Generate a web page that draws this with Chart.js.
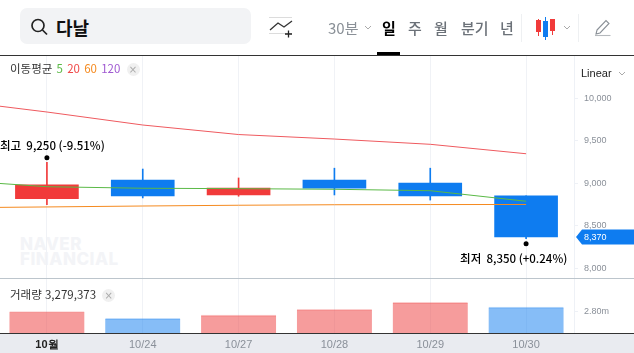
<!DOCTYPE html>
<html lang="ko">
<head>
<meta charset="utf-8">
<title>다날</title>
<script src="https://cdn.jsdelivr.net/npm/chart.js@4"></script>
<style>
  html, body { margin: 0; padding: 0; background: #fff; overflow: hidden; }
  body { width: 634px; height: 353px; position: relative; font-family: "Noto Sans CJK KR", sans-serif; }
  .abs { position: absolute; white-space: nowrap; }
  #search { left: 20px; top: 8px; width: 231px; height: 36px; background: #f2f3f5; border-radius: 7px; }
  #name { left: 56px; top: 14px; font-size: 18px; line-height: 26px; font-weight: 700; color: #111; }
  .period { top: 17px; font-size: 15px; line-height: 22px; color: #6b7178; font-weight: 500; }
  #topline { left: 0; top: 55px; width: 634px; height: 1px; background: #333; }
  #active { left: 377px; top: 52px; width: 23px; height: 3px; background: #000; }
  #vsep1, #vsep2 { top: 14px; width: 1px; height: 28px; background: #eef0f2; }
  #band { left: 0; top: 333px; width: 634px; height: 20px; background: #e9ebf0; }
  #baseline { left: 0; top: 333px; width: 634px; height: 1px; background: #333; }
  #paneline { left: 0; top: 278px; width: 634px; height: 1px; background: #bcc5cc; }
  #linear { left: 581px; top: 66px; font: 11px/14px "Liberation Sans", sans-serif; color: #222; }
  #watermark { left: 20px; top: 237px; font: 800 17px/15px "Inter", sans-serif; letter-spacing: 0.5px; color: #f3f4f7; }
  #legend { left: 10px; top: 61px; font-size: 11.500px; line-height: 14px; color: #333; }
  #legend b { font-weight: 400; margin-left: 1px; }
  #vollabel { left: 10px; top: 287px; font-size: 11.500px; line-height: 15px; color: #333; }
  .closer { display: inline-block; width: 13px; height: 13px; border-radius: 50%; background: #f0f0f0; color: #aaa;
            font: 10px/13px "DejaVu Sans", sans-serif; text-align: center; margin-left: 3px; }
</style>
</head>
<body>
<div class="abs" id="band"></div>
<div class="abs" id="watermark">NAVER<br>FINANCIAL</div>
<div style="position:absolute;left:-1px;top:0;width:636px;height:353px"><canvas id="stockChart"></canvas></div>
<div class="abs" id="baseline"></div>
<div class="abs" id="paneline"></div>

<div class="abs" id="search"></div>
<svg class="abs" style="left:30px;top:18px" width="20" height="20" fill="none" stroke="#222" stroke-width="1.7">
  <circle cx="8" cy="7.500" r="6"/><path d="M12.500 12l4.500 4.500"/>
</svg>
<div class="abs" id="name">다날</div>
<svg class="abs" style="left:268px;top:16px" width="26" height="24" fill="none">
  <path d="M1 1.500h23M1 17.500h23" stroke="#dcdcdc"/>
  <path d="M2 14l8-7 6 4 8-6" stroke="#333" stroke-width="1.3"/>
  <path d="M20.500 14.500v7M17 18h7" stroke="#222" stroke-width="1.300"/>
</svg>
<div class="abs period" style="left:328px;color:#8a9097;font-weight:400">30분</div>
<svg class="abs" style="left:364px;top:25px" width="8" height="6" fill="none" stroke="#aaa"><path d="M1 1l3 3 3-3"/></svg>
<div class="abs period" style="left:382px;color:#000;font-weight:700">일</div>
<div class="abs period" style="left:408px">주</div>
<div class="abs period" style="left:434px">월</div>
<div class="abs period" style="left:461px">분기</div>
<div class="abs period" style="left:500px">년</div>
<div class="abs" id="vsep1" style="left:521px"></div>
<svg class="abs" style="left:535px;top:16px" width="22" height="24">
  <path d="M3.500 3v17M17.500 3v16" stroke="#f13a3a"/><path d="M10.500 1v23" stroke="#0e7cf0"/>
  <rect x="1" y="4" width="5" height="12" fill="#f13a3a"/><rect x="15" y="3" width="5" height="12" fill="#f13a3a"/>
  <rect x="8" y="5" width="5" height="16" fill="#0e7cf0"/>
</svg>
<svg class="abs" style="left:563px;top:25px" width="8" height="6" fill="none" stroke="#aaa"><path d="M1 1l3 3 3-3"/></svg>
<div class="abs" id="vsep2" style="left:578px"></div>
<svg class="abs" style="left:594px;top:18px" width="18" height="19" fill="none" stroke="#8a9097" stroke-width="1.100">
  <path d="M3 12L12 2.500l3 3-9 9.500-4 1z"/><path d="M1 17.500h15.500" stroke="#b5b9bd"/>
</svg>
<div class="abs" id="active"></div>
<div class="abs" id="topline"></div>

<div class="abs" id="legend">이동평균 <b style="color:#5ab946">5</b> <b style="color:#f04848">20</b> <b style="color:#f58a1f">60</b> <b style="color:#a05ad2">120</b> <span class="closer">×</span></div>
<div class="abs" id="linear">Linear</div>
<svg class="abs" style="left:618px;top:71px" width="8" height="6" fill="none" stroke="#aaa"><path d="M1 1l3 3 3-3"/></svg>
<div class="abs" id="vollabel">거래량 3,279,373 <span class="closer">×</span></div>

<script>
// 10/23 is off screen, only there so the averages run in from the left edge
const days = ['10/23', '10월', '10/24', '10/27', '10/28', '10/29', '10/30'];
const opens = [null, 8820, 9040, 8865, 9040, 9005, 8855];
const closes = [null, 8985, 8855, 8945, 8945, 8855, 8370];
const highs = [null, 9250, 9170, 9065, 9180, 9180, 8855];
const lows = [null, 8750, 8830, 8850, 8865, 8805, 8350];
const ma5 = [9040, 8962, 8944, 8939, 8932, 8915, 8791];
const ma20 = [9980, 9841, 9688, 9576, 9523, 9461, 9350];
const ma60 = [8714, 8724, 8735, 8744, 8750, 8752, 8753];
const volumes = [null, 2830000, 2130000, 2470000, 3070000, 3770000, 3279373];
const priceTicks = [8000, 8500, 9000, 9500, 10000];
const volumeTicks = [2800000];
const lastPrice = 8370;

const RED = '#f13a3a', BLUE = '#0e7cf0';
const candleColors = opens.map((o, i) => closes[i] >= o ? RED : BLUE);
// volume bars are coloured by the change against the day before
const volumeUp = volumes.map((v, i) => !(v < volumes[i - 1]));
const volumeColors = volumeUp.map(up => up ? 'rgba(238,58,58,0.5)' : 'rgba(14,124,240,0.5)');
const volumeTops = volumeUp.map(up => up ? 'rgba(238,58,58,0.25)' : 'rgba(14,124,240,0.25)');

function fmt(v) { return v.toLocaleString('en-US'); }

// price tag, high / low callouts (canvas sits 1px left of the page)
const overlay = {
  id: 'overlay',
  afterDraw(chart) {
    const c = chart.ctx, x = chart.scales.x, y = chart.scales.y;
    const tag = y.getPixelForValue(lastPrice);
    c.save();
    c.fillStyle = BLUE;
    c.beginPath();
    c.moveTo(577, tag);
    c.lineTo(583, tag - 7.5);
    c.lineTo(636, tag - 7.5);
    c.lineTo(636, tag + 7.5);
    c.lineTo(583, tag + 7.5);
    c.closePath();
    c.fill();
    c.fillStyle = '#fff';
    c.font = '9px "Liberation Sans", sans-serif';
    c.textBaseline = 'middle';
    c.fillText(fmt(lastPrice), 585, tag);

    const hiX = x.getPixelForValue(1), hiY = y.getPixelForValue(highs[1]);
    const loX = x.getPixelForValue(6), loY = y.getPixelForValue(lows[6]);
    c.fillStyle = '#000';
    c.beginPath();
    c.arc(hiX, hiY - 4.5, 2.5, 0, Math.PI * 2);
    c.arc(loX, loY + 5, 2.5, 0, Math.PI * 2);
    c.fill();
    c.font = '500 11.5px "Noto Sans CJK KR", sans-serif';
    c.textAlign = 'left';
    c.fillText('최고  9,250 (-9.51%)', 1, hiY - 16.5);
    c.fillText('최저  8,350 (+0.24%)', loX - 66, loY + 19.5);
    c.restore();
  }
};

new Chart(document.getElementById('stockChart'), {
  data: {
    labels: days,
    datasets: [
      { type: 'line', data: ma5, borderColor: '#5ab946', borderWidth: 1, pointRadius: 0, order: 1, yAxisID: 'y' },
      { type: 'line', data: ma20, borderColor: '#ef5a5f', borderWidth: 1, pointRadius: 0, order: 1, yAxisID: 'y' },
      { type: 'line', data: ma60, borderColor: '#f58a1f', borderWidth: 1, pointRadius: 0, order: 1, yAxisID: 'y' },
      { type: 'bar', data: opens.map((o, i) => [o, closes[i]]), backgroundColor: candleColors,
        barThickness: 63, grouped: false, order: 3, yAxisID: 'y' },
      { type: 'bar', data: lows.map((l, i) => [l, highs[i]]), backgroundColor: candleColors,
        barThickness: 1, grouped: false, order: 4, yAxisID: 'y' },
      { type: 'bar', data: volumes, backgroundColor: volumeColors, borderColor: volumeTops,
        borderWidth: { top: 1 }, borderSkipped: false, barThickness: 75, grouped: false, order: 5, yAxisID: 'vol' }
    ]
  },
  options: {
    responsive: true,
    maintainAspectRatio: false,
    animation: false,
    layout: { padding: { top: 56 } },
    plugins: { legend: { display: false }, tooltip: { enabled: false } },
    scales: {
      x: {
        min: '10월',
        max: '10/30',
        afterFit: (axis) => { axis.height = 20; },
        grid: { color: '#f0f2f6', drawTicks: false, offset: false },
        border: { display: false },
        ticks: {
          autoSkip: false,
          maxRotation: 0,
          padding: 5,
          font: (ctx) => ({ family: '"Liberation Sans", sans-serif', size: 11, weight: ctx.index === 0 ? 'bold' : 'normal' }),
          color: (ctx) => ctx.index === 0 ? '#222' : '#8a9099'
        }
      },
      y: {
        position: 'right',
        stack: 'panes',
        stackWeight: 222,
        min: 7888,
        max: 10500,
        afterBuildTicks: (axis) => { axis.ticks = priceTicks.map(v => ({ value: v })); },
        afterFit: (axis) => { axis.width = 61; },
        grid: { drawOnChartArea: false, tickLength: 4, color: '#eef1f6' },
        border: { color: '#eef1f6' },
        ticks: { callback: fmt, color: '#8a9099', padding: 6, font: { family: '"Liberation Sans", sans-serif', size: 9 } }
      },
      vol: {
        position: 'right',
        stack: 'panes',
        stackWeight: 55,
        min: 630000,
        max: 6270000,
        afterBuildTicks: (axis) => { axis.ticks = volumeTicks.map(v => ({ value: v })); },
        afterFit: (axis) => { axis.width = 61; },
        grid: { drawOnChartArea: false, tickLength: 4, color: '#eef1f6' },
        border: { color: '#eef1f6' },
        ticks: { callback: (v) => (v / 1000000).toFixed(2) + 'm', color: '#8a9099', padding: 6, font: { family: '"Liberation Sans", sans-serif', size: 9 } }
      }
    }
  },
  plugins: [overlay]
});
</script>
</body>
</html>
